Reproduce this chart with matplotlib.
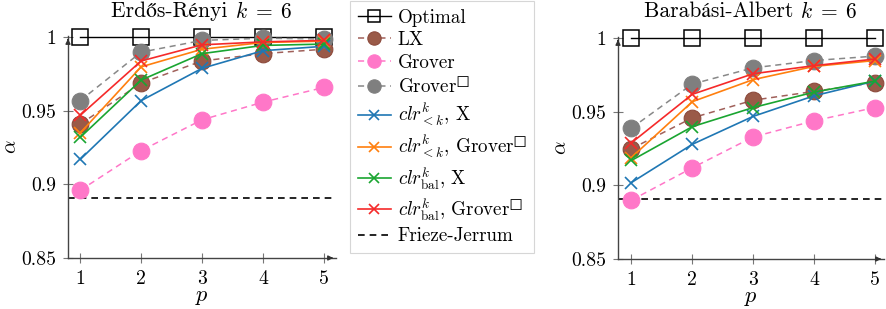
import matplotlib
matplotlib.use("Agg")
import matplotlib.pyplot as plt
from matplotlib.lines import Line2D

plt.rcParams['font.family'] = ['cmr10', 'STIXGeneral', 'DejaVu Serif']
plt.rcParams['mathtext.fontset'] = 'cm'
plt.rcParams['axes.formatter.use_mathtext'] = True

p = [1, 2, 3, 4, 5]
yticks = [0.85, 0.9, 0.95, 1.0]
ytick_labels = ["0.85", "0.9", "0.95", "1"]
frieze_jerrum = 0.891

titles = ["Erdős-Rényi ", "Barabási-Albert "]
title_math = r"$k\;=\;6$"

# Erdos-Renyi
er_optimal = [1, 1, 1, 1, 1]
er_lx = [0.941, 0.969, 0.984, 0.989, 0.992]
er_grover = [0.896, 0.923, 0.944, 0.956, 0.966]
er_groversq = [0.957, 0.990, 0.998, 0.9995, 0.999]
er_clr_lt_x = [0.917, 0.957, 0.979, 0.991, 0.994]
er_clr_lt_g = [0.935, 0.980, 0.992, 0.9966, 0.9975]
er_clr_bal_x = [0.932, 0.971, 0.989, 0.9946, 0.9955]
er_clr_bal_g = [0.947, 0.984, 0.995, 0.997, 0.998]

# Barabasi-Albert
ba_optimal = [1, 1, 1, 1, 1]
ba_lx = [0.925, 0.946, 0.958, 0.964, 0.970]
ba_grover = [0.890, 0.912, 0.933, 0.944, 0.953]
ba_groversq = [0.939, 0.969, 0.980, 0.985, 0.988]
ba_clr_lt_x = [0.902, 0.928, 0.947, 0.961, 0.971]
ba_clr_lt_g = [0.919, 0.957, 0.972, 0.981, 0.985]
ba_clr_bal_x = [0.917, 0.940, 0.953, 0.9635, 0.971]
ba_clr_bal_g = [0.929, 0.962, 0.976, 0.9815, 0.986]

SQ = "\u25a1"
labels = ["Optimal", "LX", "Grover", "Grover$^{" + SQ + "}$",
          r"$clr^k_{<k}$, X", r"$clr^k_{<k}$, Grover$^{" + SQ + "}$",
          r"$clr^k_{\mathrm{bal}}$, X", r"$clr^k_{\mathrm{bal}}$, Grover$^{" + SQ + "}$",
          "Frieze-Jerrum"]

datasets = [
    [er_optimal, er_lx, er_grover, er_groversq, er_clr_lt_x, er_clr_lt_g, er_clr_bal_x, er_clr_bal_g],
    [ba_optimal, ba_lx, ba_grover, ba_groversq, ba_clr_lt_x, ba_clr_lt_g, ba_clr_bal_x, ba_clr_bal_g],
]

DASH = (0, (4, 3))
styles = [
    dict(color='black', ls='-', marker='s', ms=11, mfc='none', mec='black', mew=1.1, lw=1.0),
    dict(color='#a0605a', ls=DASH, marker='o', ms=12, mfc='#9a5a48', mec='#8c4a3c', mew=0.8, lw=1.1),
    dict(color='#ff77c8', ls=DASH, marker='o', ms=12, mfc='#ff77c8', mec='#ff77c8', mew=0.8, lw=1.1),
    dict(color='#888888', ls=DASH, marker='o', ms=12, mfc='#7f7f7f', mec='#7f7f7f', mew=0.8, lw=1.1),
    dict(color='#1f77b4', ls='-', marker='x', ms=9, mew=1.2, lw=1.2),
    dict(color='#ff7f0e', ls='-', marker='x', ms=9, mew=1.2, lw=1.2),
    dict(color='#1aa531', ls='-', marker='x', ms=9, mew=1.2, lw=1.2),
    dict(color='#f52a2a', ls='-', marker='x', ms=9, mew=1.2, lw=1.2),
]

fig = plt.figure(figsize=(8.86, 3.09), dpi=100)
W, H = 886, 309
axes_px = [(68, 36, 336, 258), (618, 37, 884, 259)]
xlims = [(0.8, 5.2), (0.78, 5.15)]
renderer = fig.canvas.get_renderer()

for i, (x0, y0, x1, y1) in enumerate(axes_px):
    ax = fig.add_axes([x0 / W, 1 - y1 / H, (x1 - x0) / W, (y1 - y0) / H])
    ax.axhline(frieze_jerrum, color='black', ls=(0, (4, 3)), lw=1.2, zorder=1)
    for data, st in zip(datasets[i], styles):
        ax.plot(p, data, clip_on=False, zorder=3, **st)
    ax.set_xlim(*xlims[i])
    ax.set_ylim(0.85, 1.001)
    ax.set_xticks(p)
    ax.set_xticklabels([str(v) for v in p])
    ax.set_yticks(yticks)
    ax.set_yticklabels(ytick_labels)
    ax.tick_params(direction='inout', length=7, width=0.8, color='#777777', labelsize=14.2)
    ax.tick_params(axis='y', pad=5)
    ax.tick_params(axis='x', pad=5)
    for s in ['top', 'right']:
        ax.spines[s].set_visible(False)
    for s in ['left', 'bottom']:
        ax.spines[s].set_color('#444444')
        ax.spines[s].set_linewidth(1.0)
    ax.set_xlabel(r"$p$", fontsize=16, labelpad=0)
    ax.set_ylabel(r"$\alpha$", fontsize=15, labelpad=1)
    # title in two parts (plain text + math)
    ty = 1 - 11 / H
    tcx = (x0 + x1) / 2 / W
    t1 = fig.text(tcx, ty, titles[i], ha='right', va='center', fontsize=15.5)
    t2 = fig.text(tcx, ty, title_math, ha='left', va='center', fontsize=15.5)
    w1 = t1.get_window_extent(renderer).width / W
    w2 = t2.get_window_extent(renderer).width / W
    shift = (w1 - w2) / 2
    t1.set_x(tcx + shift)
    t2.set_x(tcx + shift)
    ax.annotate('', xy=(1.0, 0), xytext=(0.97, 0), xycoords='axes fraction',
                arrowprops=dict(arrowstyle='-|>', color='#333333', lw=1.0, mutation_scale=7))
    ax.annotate('', xy=(0, 1.0), xytext=(0, 0.97), xycoords='axes fraction',
                arrowprops=dict(arrowstyle='-|>', color='#333333', lw=1.0, mutation_scale=7))

handles = []
for st in styles:
    s = dict(st)
    s['ms'] = s['ms'] * 0.8
    handles.append(Line2D([], [], **s))
handles.append(Line2D([], [], color='black', ls=(0, (4, 3)), lw=1.2))

leg = fig.legend(handles, labels, loc='upper left', bbox_to_anchor=(350 / W, 1 - 1 / H),
                 fontsize=13.7, frameon=True, fancybox=False, edgecolor='#cccccc',
                 handlelength=1.75, handletextpad=0.35, labelspacing=0.24,
                 borderpad=0.4, borderaxespad=0)
leg.get_frame().set_linewidth(0.8)

fig.savefig('out.png', dpi=100)
